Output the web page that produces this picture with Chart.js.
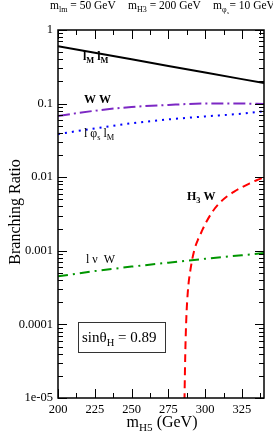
<!DOCTYPE html>
<html>
<head>
<meta charset="utf-8">
<script src="https://cdn.jsdelivr.net/npm/chart.js@4.4.0/dist/chart.umd.min.js"></script>
<style>
  body { margin: 0; background: #fff; }
  canvas { display: block; }
</style>
</head>
<body>
<canvas id="mycanvas" width="273" height="437"></canvas>
<script>
// values
var massGrid = [200, 225, 250, 275, 300, 325, 340];
var brLMLM   = [0.60, 0.49, 0.40, 0.325, 0.265, 0.215, 0.19];
var brWW     = [0.068, 0.080, 0.090, 0.096, 0.100, 0.100, 0.099];
var brPhiLM  = [0.0386, 0.046, 0.054, 0.061, 0.067, 0.073, 0.079];
var brNuW    = [0.00045, 0.00053, 0.00061, 0.00069, 0.00078, 0.00087, 0.00093];

var massH3W = [285.8, 286.5, 287.2, 288.3, 290, 292.5, 295, 297.5, 300, 305, 310, 315, 320, 325, 330, 335, 340];
var brH3W   = [0.000006, 0.00004, 0.00012, 0.00029, 0.00055, 0.0010, 0.0014, 0.0018, 0.0023, 0.0034, 0.0045, 0.0055, 0.0064, 0.0073, 0.0082, 0.0091, 0.0099];

var xTicks = [200, 225, 250, 275, 300, 325];
var yTicks = [1e-5, 1e-4, 1e-3, 0.01, 0.1, 1];
var yTickLabels = ['1e-05', '0.0001', '0.001', '0.01', '0.1', '1'];

function pts(xs, ys) {
	var out = [];
	for (var i in xs) out.push({x: xs[i], y: ys[i]});
	return out;
}

var serif = "'Liberation Serif', 'DejaVu Serif', serif";

// draws text with subscripts: parts = [[text, isSub], ...]
function richText(ctx, parts, x, y, size, bold) {
	for (var i = 0; i < parts.length; i++) {
		var sub = parts[i][1];
		var fs = sub ? size * 0.7 : size;
		ctx.font = (bold ? 'bold ' : '') + fs + 'px ' + serif;
		ctx.fillText(parts[i][0], x, sub ? y + size * 0.28 : y);
		x += ctx.measureText(parts[i][0]).width;
	}
	return x;
}

var decor = {
	id: 'decor',
	afterDraw: function(chart) {
		var ctx = chart.ctx, a = chart.chartArea;
		var xs = chart.scales.x, ys = chart.scales.y;
		ctx.save();
		ctx.strokeStyle = '#000';
		ctx.lineWidth = 1.5;
		ctx.strokeRect(a.left, a.top, a.right - a.left, a.bottom - a.top);

		// inward ticks
		ctx.lineWidth = 1;
		ctx.beginPath();
		for (var m = 200; m <= 340; m += 12.5) {
			var px = Math.round(xs.getPixelForValue(m)) + 0.5;
			var len = (m % 25 === 0) ? 9 : 5;
			ctx.moveTo(px, a.bottom); ctx.lineTo(px, a.bottom - len);
			ctx.moveTo(px, a.top); ctx.lineTo(px, a.top + len);
		}
		for (var e = -5; e < 0; e++) {
			for (var k = 1; k <= 10; k++) {
				var v = k * Math.pow(10, e);
				var py = Math.round(ys.getPixelForValue(v)) + 0.5;
				var l = (k === 1 || k === 10) ? 9 : 5;
				ctx.moveTo(a.left, py); ctx.lineTo(a.left + l, py);
				ctx.moveTo(a.right, py); ctx.lineTo(a.right - l, py);
			}
		}
		ctx.stroke();

		ctx.fillStyle = '#000';
		ctx.textBaseline = 'alphabetic';
		ctx.textAlign = 'left';

		// header
		richText(ctx, [['m', 0], ['lm', 1], [' = 50 GeV', 0]], 50, 9, 11.5, false);
		richText(ctx, [['m', 0], ['H3', 1], [' = 200 GeV', 0]], 128, 9, 11.5, false);
		richText(ctx, [['m', 0], ['\u03c6', 1], [' = 10 GeV', 0]], 213, 9, 11.5, false);
		ctx.font = '5px ' + serif;
		ctx.fillText('s', 227, 14);

		// curve labels
		richText(ctx, [['l', 0], ['M', 1], [' l', 0], ['M', 1]], 83, 60, 12, true);
		richText(ctx, [['W W', 0]], 84, 103, 12, true);
		richText(ctx, [['l \u03c6', 0], ['s', 1], [' l', 0], ['M', 1]], 84, 137, 12, false);
		richText(ctx, [['l \u03bd  W', 0]], 86, 263, 12, false);
		richText(ctx, [['H', 0], ['3', 1], [' W', 0]], 187, 200, 12, true);

		// box
		ctx.strokeStyle = '#333';
		ctx.lineWidth = 1;
		ctx.strokeRect(78.5, 322.5, 87, 30);
		richText(ctx, [['sin\u03b8', 0], ['H', 1], [' = 0.89', 0]], 82, 342, 15, false);

		// axis titles
		var tw = richText(ctx, [['m', 0], ['H5', 1], [' (GeV)', 0]], 0, -100, 16, false);
		richText(ctx, [['m', 0], ['H5', 1], [' (GeV)', 0]], 162 - tw / 2, 427, 16, false);

		ctx.translate(20, 212);
		ctx.rotate(-Math.PI / 2);
		ctx.textAlign = 'center';
		ctx.font = '16px ' + serif;
		ctx.fillText('Branching Ratio', 0, 0);
		ctx.restore();
	}
};

var ctx = document.getElementById('mycanvas');

var chart = new Chart(ctx, {
	type: 'line',
	data: {
		datasets: [
			{ label: 'lM lM', data: pts(massGrid, brLMLM), borderColor: '#000', borderWidth: 2, tension: 0 },
			{ label: 'W W', data: pts(massGrid, brWW), borderColor: 'rgb(124,40,196)', borderWidth: 2, borderDash: [12, 4, 2, 4], cubicInterpolationMode: 'monotone' },
			{ label: 'l phi l', data: pts(massGrid, brPhiLM), borderColor: 'rgb(0,0,255)', borderWidth: 2, borderDash: [2, 5], cubicInterpolationMode: 'monotone' },
			{ label: 'l nu W', data: pts(massGrid, brNuW), borderColor: 'rgb(0,150,0)', borderWidth: 2, borderDash: [10, 5, 2, 5], tension: 0 },
			{ label: 'H3 W', data: pts(massH3W, brH3W), borderColor: 'rgb(255,0,0)', borderWidth: 2, borderDash: [8, 5], cubicInterpolationMode: 'monotone' }
		]
	},
	options: {
		responsive: false,
		animation: false,
		devicePixelRatio: 1,
		layout: { padding: { top: 30, right: 9, left: 0, bottom: 0 } },
		elements: { point: { radius: 0 } },
		plugins: { legend: { display: false }, tooltip: { enabled: false } },
		scales: {
			x: {
				type: 'linear', min: 200, max: 340,
				grid: { display: false, drawTicks: false },
				border: { display: false },
				afterBuildTicks: function(s) { s.ticks = xTicks.map(function(v) { return {value: v}; }); },
				afterFit: function(s) { s.height = 39; },
				ticks: { color: '#000', padding: 4, maxRotation: 0, autoSkip: false, font: { family: serif, size: 12.5 } }
			},
			y: {
				type: 'logarithmic', min: 1e-5, max: 1,
				grid: { display: false, drawTicks: false },
				border: { display: false },
				afterBuildTicks: function(s) { s.ticks = yTicks.map(function(v) { return {value: v}; }); },
				afterFit: function(s) { s.width = 58; },
				ticks: {
					color: '#000', padding: 5, autoSkip: false, font: { family: serif, size: 12.5 },
					callback: function(v) { return yTickLabels[yTicks.indexOf(v)]; }
				}
			}
		}
	},
	plugins: [decor]
});
</script>
</body>
</html>
